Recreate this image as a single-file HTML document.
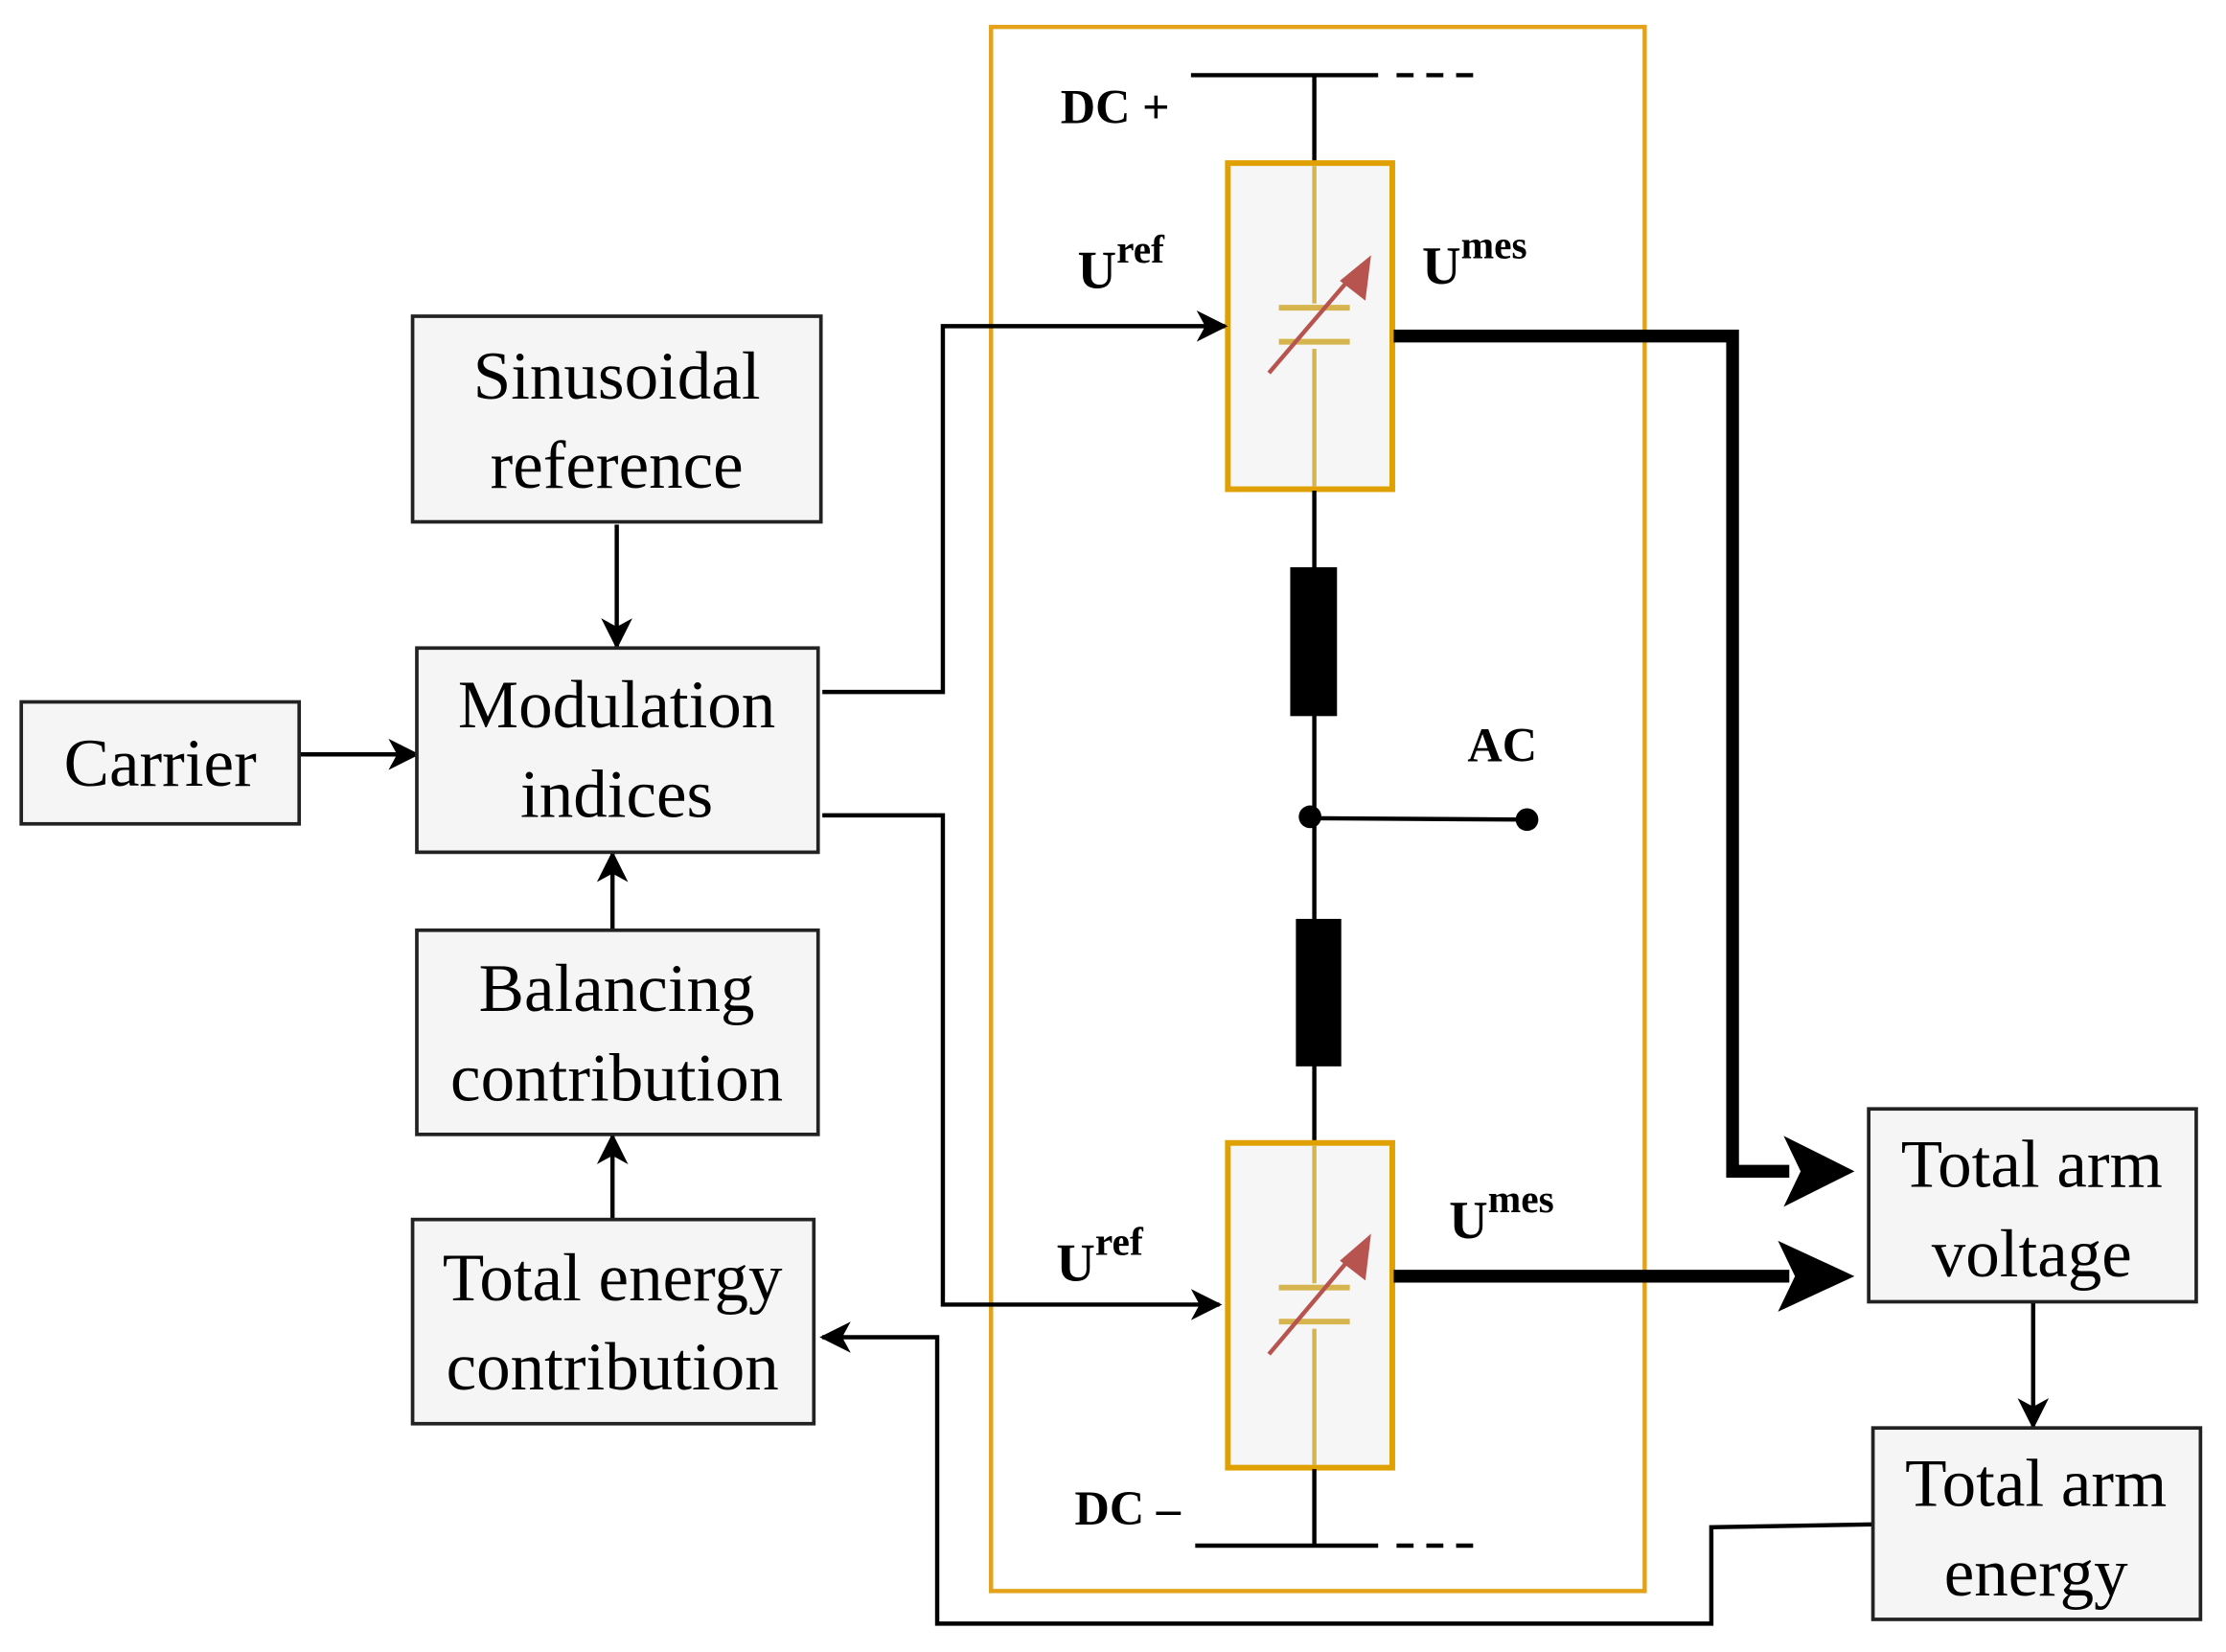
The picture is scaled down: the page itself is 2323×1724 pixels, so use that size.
<!DOCTYPE html>
<html><head><style>html,body{margin:0;padding:0;background:#fff}svg{display:block}</style></head>
<body>
<svg xmlns="http://www.w3.org/2000/svg" width="2323" height="1724" viewBox="0 0 1570 1165" preserveAspectRatio="none" font-family="Liberation Serif, serif">
<defs>
<marker id="a" markerWidth="22" markerHeight="22" refX="20" refY="11" orient="auto" markerUnits="userSpaceOnUse" viewBox="0 0 22 22"><path d="M0,0 L22,11 L0,22 L6,11 z" fill="#000"/></marker>
</defs>
<rect x="0" y="0" width="1570" height="1165" fill="#fff"/>
<rect x="699" y="19" width="461" height="1103" fill="none" stroke="#e3a21a" stroke-width="3"/>
<line x1="840" y1="53" x2="972" y2="53" stroke="#000" stroke-width="3"/>
<line x1="985" y1="53" x2="1048" y2="53" stroke="#000" stroke-width="3" stroke-dasharray="12,9"/>
<text x="748" y="87" font-size="34" font-weight="bold">DC +</text>
<line x1="927" y1="53" x2="927" y2="114" stroke="#000" stroke-width="3"/>
<rect x="866" y="115" width="116" height="230" fill="#f6f6f6" stroke="#e0a000" stroke-width="4"/>
<line x1="927" y1="117" x2="927" y2="343" stroke="#d6b44e" stroke-width="3"/>
<rect x="902" y="214" width="52" height="32" fill="#f6f6f6"/>
<line x1="902" y1="217" x2="952" y2="217" stroke="#d6b44e" stroke-width="4"/>
<line x1="902" y1="241" x2="952" y2="241" stroke="#d6b44e" stroke-width="4"/>
<line x1="895" y1="263" x2="955" y2="193" stroke="#b85450" stroke-width="3"/>
<path d="M967,180 L963,212 L945,198 z" fill="#b85450"/>
<line x1="927" y1="346" x2="927" y2="805" stroke="#000" stroke-width="3"/>
<rect x="910" y="400" width="33" height="105" fill="#000"/>
<rect x="914" y="648" width="32" height="104" fill="#000"/>
<line x1="924" y1="577" x2="1077" y2="578" stroke="#000" stroke-width="3"/>
<circle cx="924" cy="576" r="8" fill="#000"/>
<circle cx="1077" cy="578" r="8" fill="#000"/>
<text x="1035" y="537" font-size="34" font-weight="bold">AC</text>
<rect x="866" y="806" width="116" height="229" fill="#f6f6f6" stroke="#e0a000" stroke-width="4"/>
<line x1="927" y1="808" x2="927" y2="1033" stroke="#d6b44e" stroke-width="3"/>
<rect x="902" y="905" width="52" height="32" fill="#f6f6f6"/>
<line x1="902" y1="908" x2="952" y2="908" stroke="#d6b44e" stroke-width="4"/>
<line x1="902" y1="932" x2="952" y2="932" stroke="#d6b44e" stroke-width="4"/>
<line x1="895" y1="955" x2="955" y2="884" stroke="#b85450" stroke-width="3"/>
<path d="M967,870 L963,903 L945,889 z" fill="#b85450"/>
<line x1="927" y1="1036" x2="927" y2="1090" stroke="#000" stroke-width="3"/>
<line x1="843" y1="1090" x2="972" y2="1090" stroke="#000" stroke-width="3"/>
<line x1="985" y1="1090" x2="1048" y2="1090" stroke="#000" stroke-width="3" stroke-dasharray="12,9"/>
<text x="758" y="1075" font-size="34" font-weight="bold">DC –</text>
<text x="760" y="203" font-size="38" font-weight="bold">U<tspan font-size="28" dy="-18">ref</tspan></text>
<text x="1003" y="200" font-size="38" font-weight="bold">U<tspan font-size="28" dy="-18">mes</tspan></text>
<text x="745" y="903" font-size="38" font-weight="bold">U<tspan font-size="28" dy="-18">ref</tspan></text>
<text x="1022" y="873" font-size="38" font-weight="bold">U<tspan font-size="28" dy="-18">mes</tspan></text>
<g fill="none" stroke="#000" stroke-width="3">
<polyline points="580,488 665,488 665,230 864,230" marker-end="url(#a)"/>
<polyline points="580,575 665,575 665,920 860,920" marker-end="url(#a)"/>
<line x1="435" y1="370" x2="435" y2="456" marker-end="url(#a)"/>
<line x1="211" y1="532" x2="294" y2="532" marker-end="url(#a)"/>
<line x1="432" y1="656" x2="432" y2="602" marker-end="url(#a)"/>
<line x1="432" y1="860" x2="432" y2="801" marker-end="url(#a)"/>
<line x1="1434" y1="918" x2="1434" y2="1006" marker-end="url(#a)"/>
<polyline points="1321,1075 1207,1077 1207,1145 661,1145 661,943 580,943" marker-end="url(#a)"/>
<polyline points="983,237 1222,237 1222,826 1262,826" stroke-width="9"/>
<line x1="983" y1="900" x2="1262" y2="900" stroke-width="9"/>
</g>
<path d="M1308,826 L1258,801 L1270,826 L1258,851 z" fill="#000"/>
<path d="M1308,900 L1254,875 L1266,900 L1254,925 z" fill="#000"/>
<g fill="#f5f5f5" stroke="#222" stroke-width="2.5">
<rect x="291" y="223" width="288" height="145"/>
<rect x="294" y="457" width="283" height="144"/>
<rect x="15" y="495" width="196" height="86"/>
<rect x="294" y="656" width="283" height="144"/>
<rect x="291" y="860" width="283" height="144"/>
<rect x="1318" y="782" width="231" height="136"/>
<rect x="1321" y="1007" width="231" height="135"/>
</g>
<g font-size="48" text-anchor="middle" fill="#000">
<text x="435" y="281">Sinusoidal</text><text x="435" y="344">reference</text>
<text x="435" y="513">Modulation</text><text x="435" y="576">indices</text>
<text x="113" y="554">Carrier</text>
<text x="435" y="713">Balancing</text><text x="435" y="776">contribution</text>
<text x="432" y="917">Total energy</text><text x="432" y="980">contribution</text>
<text x="1433" y="837">Total arm</text><text x="1433" y="900">voltage</text>
<text x="1436" y="1062">Total arm</text><text x="1436" y="1125">energy</text>
</g>
</svg>
</body></html>
